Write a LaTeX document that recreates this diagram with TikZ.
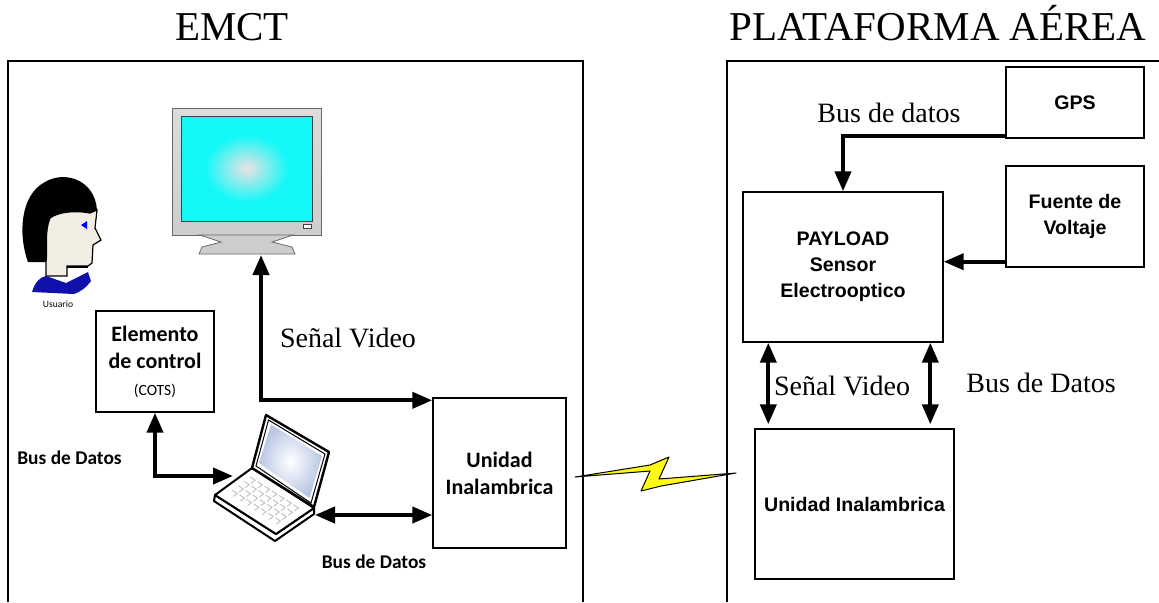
\documentclass[tikz,border=0pt]{standalone}
\usepackage{fontspec}
\setmainfont{Liberation Serif}
\newfontfamily\arial{Liberation Sans}
\newfontfamily\calibri{Carlito}
\usetikzlibrary{arrows.meta,calc}

\definecolor{pantcyan}{RGB}{20,248,248}
\definecolor{pantcentro}{RGB}{236,226,226}
\definecolor{marco}{RGB}{205,205,205}
\definecolor{marcoosc}{RGB}{105,105,105}
\definecolor{piel}{RGB}{242,238,228}
\definecolor{azulcuello}{RGB}{16,16,170}
\definecolor{rayo}{RGB}{255,250,20}
\definecolor{lcd}{RGB}{185,198,228}
\pgfdeclareradialshading{pantalla}{\pgfpoint{0bp}{0bp}}{color(0bp)=(pantcentro); color(16bp)=(pantcyan); color(50bp)=(pantcyan)}

\tikzset{
  caja/.style={draw, line width=0.7pt, inner sep=0pt, align=center},
  negrita/.style={font=\arial\bfseries\fontsize{9.8}{13}\selectfont},
  calib/.style={font=\calibri\bfseries\fontsize{11}{13.5}\selectfont},
  serif/.style={font=\fontsize{14}{16}\selectfont, inner sep=0pt, anchor=base},
  titulo/.style={font=\fontsize{20.5}{24}\selectfont, inner sep=0pt, anchor=base},
  bus/.style={line width=2pt, {Triangle[length=10pt,width=8pt]}-{Triangle[length=10pt,width=8pt]}},
  busuno/.style={line width=2pt, -{Triangle[length=10pt,width=8pt]}},
  tecla/.style={draw=gray!55, line width=0.4pt},
}

\begin{document}
\begin{tikzpicture}[x=0.5pt,y=-0.5pt]
    \useasboundingbox (0,0) rectangle (1159,602);

    %% marcos de las dos estaciones
    \draw[line width=0.6pt] (8,602) -- (8,61) -- (583,61) -- (583,602);
    \draw[line width=0.6pt] (727,602) -- (727,61) -- (1159,61);
    \node[titulo] (tituloEMCT) at (232,40) {EMCT};
    \node[titulo] (tituloPlat) at (938,40) {PLATAFORMA AÉREA};

    %% monitor
    \node[draw=marcoosc, top color=marco!70!white, bottom color=marco, minimum width=74.5pt, minimum height=63.5pt, inner sep=0pt] (monitor) at (246.5,171.5) {};
    \path[draw=black!75, shading=pantalla] (181,116) rectangle (312,221);
    \draw[fill=white, draw=black!75] (303,224) rectangle (311,228);
    \draw[draw=marcoosc, fill=marco] (200,235) -- (293,235) -- (272,242) -- (292,247) -- (295,254) -- (199,254) -- (202,247) -- (221,242) -- cycle;
    \coordinate (pie) at (261,255);

    %% usuario
    \draw[fill=piel, line width=0.6pt] (50,218) .. controls (58,212) and (75,210) .. (90,213) -- (97,210) -- (95,228) -- (101,240) -- (93,245) -- (92,263) -- (88,266) -- (67,266) -- (67,276) -- (46,276) -- (46,262) .. controls (48,250) and (44,232) .. (50,218) -- cycle;
    \draw[line width=0.8pt] (67,267) -- (88,267);
    \fill (28,262) .. controls (18,235) and (20,195) .. (45,182) .. controls (65,170) and (95,180) .. (97,210) -- (90,213) .. controls (75,210) and (58,212) .. (50,218) .. controls (44,232) and (48,250) .. (46,262) -- cycle;
    \fill[blue] (81,225) -- (87,221) -- (87,229) -- cycle;
    \fill[azulcuello] (32,292) .. controls (35,282) and (40,277) .. (46,276) -- (66,283) -- (88,272) -- (91,281) .. controls (86,288) and (80,292) .. (74,294) -- cycle;
    \node[font=\calibri\fontsize{4.8}{5}\selectfont] (usuario) at (58,304) {Usuario};

    %% laptop
    \draw[fill=white, line width=1pt, line join=round] (215,495) -- (276,534) -- (314,508) -- (314,514) -- (275,541) -- (214,501) -- cycle;
    \draw[fill=white, line width=1pt, line join=round] (215,495) -- (252,468) -- (314,508) -- (276,534) -- cycle;
    \foreach \i in {1,...,7}
      \foreach \j in {1,...,4}
        \draw[tecla] ($(249,468)+\i*(7.2,4.6)+\j*(-6,4.4)$) -- ++(5,3.2) -- ++(-4,3);
    \draw[fill=white, line width=1.2pt, line join=round] (252,468) -- (266,415) -- (329,452) -- (314,507) -- cycle;
    \draw[line width=0.5pt] (256,466) -- (268.5,420) -- (325,454) -- (311,503) -- cycle;
    \path[shading=radial, inner color=white, outer color=lcd] (259,463) -- (271,424.5) -- (322,456) -- (309.5,498) -- cycle;
    \coordinate (lapizq) at (233,476);
    \coordinate (lapder) at (315,515);

    %% cajas de la EMCT
    \node[caja, calib, minimum width=59pt, minimum height=50.5pt] (control) at (155,361.5) {Elemento\\de control\\{\calibri\mdseries\fontsize{7.8}{9}\selectfont (COTS)}};
    \node[caja, calib, minimum width=66.5pt, minimum height=75pt] (unidadT) at (499.5,473) {Unidad\\Inalambrica};

    %% cajas de la plataforma
    \node[caja, negrita, minimum width=69pt, minimum height=35.5pt] (gps) at (1075,102.5) {GPS};
    \node[caja, negrita, minimum width=69pt, minimum height=50.5pt] (fuente) at (1075,216.5) {Fuente de\\Voltaje};
    \node[caja, negrita, minimum width=100pt, minimum height=75pt] (payload) at (843,267) {PAYLOAD\\Sensor\\Electrooptico};
    \node[caja, negrita, minimum width=99.5pt, minimum height=75pt] (unidadA) at (854.5,504) {Unidad Inalambrica};

    %% enlace de radio
    \draw[fill=rayo, line width=0.5pt, line join=round] (575,477) -- (650,465) -- (669,457) -- (659,479) -- (736,473) -- (661,486) -- (641,491) -- (650,471) -- cycle;

    %% buses EMCT
    \draw[bus] (pie) |- ($(unidadT.north west)+(0,3)$);
    \draw[bus] (control.south) |- (lapizq);
    \draw[bus] (lapder) -- (lapder -| unidadT.west);
    \node[serif] (videoT) at (348,347) {Señal Video};
    \node[calib, font=\calibri\bfseries\fontsize{9.7}{11}\selectfont] (busT1) at (69.5,458) {Bus de Datos};
    \node[calib, font=\calibri\bfseries\fontsize{9.7}{11}\selectfont] (busT2) at (374,562) {Bus de Datos};

    %% buses plataforma
    \path (gps.south west) ++(0,-3) coordinate (gpssal);
    \path (fuente.south west) ++(0,-6) coordinate (fuentesal);
    \draw[busuno] (gpssal) -| (payload.north);
    \draw[busuno] (fuentesal) -- (fuentesal -| payload.east);
    \path (payload.south west) ++(26,0) coordinate (sv1);
    \path (payload.south west) ++(188,0) coordinate (sv2);
    \draw[bus, shorten >=2pt] (sv1) -- (sv1 |- unidadA.north);
    \draw[bus, shorten >=2pt] (sv2) -- (sv2 |- unidadA.north);
    \node[serif] (busA1) at (889,122) {Bus de datos};
    \node[serif] (videoA) at (842,395) {Señal Video};
    \node[serif] (busA2) at (1041,392) {Bus de Datos};
\end{tikzpicture}
\end{document}
